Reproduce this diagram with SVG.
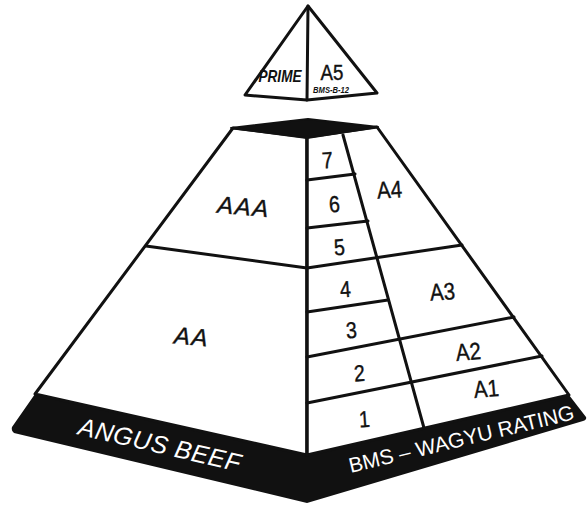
<svg xmlns="http://www.w3.org/2000/svg" width="588" height="513" viewBox="0 0 588 513">
<style>
.face{fill:#fff;stroke:#111;stroke-width:3;stroke-linejoin:round}
.ln{stroke:#111;stroke-width:3;fill:none;stroke-linecap:round}
.dark{fill:#111}
.num{font-family:"Liberation Sans",Arial,sans-serif;font-size:23px;fill:#111;text-anchor:middle;stroke:#111;stroke-width:0.4}
.ital{font-family:"Liberation Sans",Arial,sans-serif;font-size:24px;font-style:italic;fill:#111;text-anchor:middle;letter-spacing:1.5px;stroke:#111;stroke-width:0.4}
.band{font-family:"Liberation Sans",Arial,sans-serif;fill:#fff;text-anchor:middle}
</style>
<rect width="588" height="513" fill="#fff"/>
<g id="apex">
<polygon class="face" points="308,6 377,93 307,100 245,95"/>
<line class="ln" x1="308" y1="6" x2="307" y2="100"/>
<g transform="translate(280,82) scale(0.85,1)"><text x="0" y="0" style="font-family:'Liberation Sans',Arial,sans-serif;font-size:16px;font-weight:bold;font-style:italic;fill:#111;text-anchor:middle">PRIME</text></g>
<g transform="translate(332,80) scale(0.85,1)"><text class="num" x="0" y="0" style="font-size:22px">A5</text></g>
<g transform="translate(331,93) scale(0.8,1)"><text x="0" y="0" style="font-family:'Liberation Sans',Arial,sans-serif;font-size:9.5px;font-weight:bold;font-style:italic;fill:#111;text-anchor:middle">BMS-B-12</text></g>
</g>
<g id="band">
<path class="dark" d="M35,394 L307,455 L569,395 L586,417 Q587,420 583,421 L307,503 L14,433 Q11,431 12,427 Z"/>
<text class="band" transform="translate(158,453) rotate(13)" style="font-size:25px;font-style:italic;letter-spacing:0.5px">ANGUS BEEF</text>
<text class="band" transform="translate(463,446) rotate(-13.5)" style="font-size:21px">BMS – WAGYU RATING</text>
</g>
<g id="left-face">
<polygon class="face" points="233,128 307,137 307,455 35,394"/>
</g>
<g id="right-face">
<polygon class="face" points="307,137 377,127 569,395 307,455"/>
</g>
<g id="cap">
<polygon class="dark" points="231,128 308,119 378,127 307,138" stroke="#111" stroke-width="2" stroke-linejoin="round"/>
</g>
<g id="connectors">
<line class="ln" x1="307" y1="137" x2="307" y2="455"/>
<line class="ln" x1="146" y1="246" x2="307" y2="268"/>
<line class="ln" x1="343" y1="135" x2="424" y2="428"/>
<line class="ln" x1="307" y1="180" x2="355" y2="174"/>
<line class="ln" x1="307" y1="228" x2="368" y2="221"/>
<line class="ln" x1="307" y1="268" x2="462" y2="245"/>
<line class="ln" x1="307" y1="312" x2="388" y2="300"/>
<line class="ln" x1="307" y1="357" x2="514" y2="317"/>
<line class="ln" x1="307" y1="403" x2="542" y2="356"/>
</g>
<g id="AAA"><text class="ital" transform="translate(243,215) rotate(5)">AAA</text></g>
<g id="AA"><text class="ital" transform="translate(191,345) rotate(5)">AA</text></g>
<g id="n7"><g transform="translate(328,168) rotate(-4) scale(0.85,1)"><text class="num">7</text></g></g>
<g id="n6"><g transform="translate(335,212) rotate(-4) scale(0.85,1)"><text class="num">6</text></g></g>
<g id="n5"><g transform="translate(340,255) rotate(-4) scale(0.85,1)"><text class="num">5</text></g></g>
<g id="n4"><g transform="translate(346,297) rotate(-4) scale(0.85,1)"><text class="num">4</text></g></g>
<g id="n3"><g transform="translate(352,338) rotate(-4) scale(0.85,1)"><text class="num">3</text></g></g>
<g id="n2"><g transform="translate(360,381) rotate(-4) scale(0.85,1)"><text class="num">2</text></g></g>
<g id="n1"><g transform="translate(365,427) rotate(-4) scale(0.85,1)"><text class="num">1</text></g></g>
<g id="A4"><g transform="translate(390,198) rotate(-4) scale(0.85,1)"><text class="num" style="font-size:24px">A4</text></g></g>
<g id="A3"><g transform="translate(443,300) rotate(-4) scale(0.85,1)"><text class="num" style="font-size:24px">A3</text></g></g>
<g id="A2"><g transform="translate(469,360) rotate(-5) scale(0.85,1)"><text class="num" style="font-size:24px">A2</text></g></g>
<g id="A1"><g transform="translate(487,397) rotate(-5) scale(0.85,1)"><text class="num" style="font-size:24px">A1</text></g></g>
</svg>
